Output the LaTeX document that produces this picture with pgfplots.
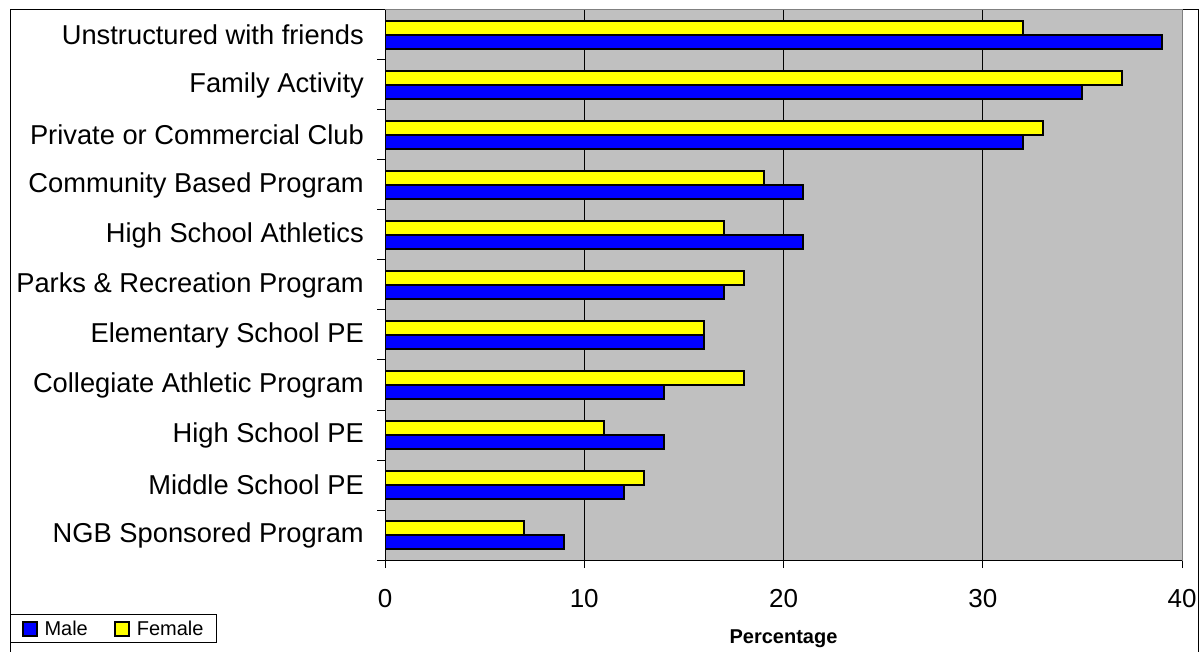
\documentclass[border=0pt]{standalone}
\usepackage{pgfplots}
\pgfplotsset{compat=1.18}
\usepackage{fontspec}
\setmainfont{Liberation Sans}
\definecolor{barblue}{RGB}{0,0,255}
\definecolor{baryellow}{RGB}{255,255,0}
\definecolor{plotgray}{RGB}{192,192,192}
\begin{document}
\begin{tikzpicture}[x=1pt,y=1pt]
\useasboundingbox (0,0) rectangle (1199,651);
\draw[line width=1pt] (10,-5) -- (10,641) -- (1198,641) -- (1198,-5);
\begin{axis}[
  at={(385pt,91pt)}, anchor=south west,
  scale only axis, width=797pt, height=550pt,
  xbar, bar width=14pt,
  xmin=0, xmax=40, ymin=-0.5, ymax=10.5,
  axis background/.style={fill=plotgray},
  axis line style={draw=gray, line width=1pt},
  xtick={0,10,20,30,40}, xtick pos=bottom, tick align=outside,
  major tick length=8pt,
  tick style={black, line width=1pt},
  xmajorgrids, major grid style={black, line width=0.8pt},
  ytick={-0.5,0.5,...,10.5}, ytick pos=left, yticklabels={},
  extra y ticks={0,1,2,3,4,5,6,7,8,9,10},
  extra y tick labels={NGB Sponsored Program, Middle School PE, High School PE, Collegiate Athletic Program, Elementary School PE, Parks \& Recreation Program, High School Athletics, Community Based Program, Private or Commercial Club, Family Activity, Unstructured with friends},
  extra y tick style={tick style={draw=none}, yticklabel style={anchor=east, inner sep=0pt, xshift=-13pt, font=\fontsize{27.3}{31}\selectfont}},
  xticklabel style={font=\fontsize{26}{30}\selectfont, anchor=base, yshift=-39pt, inner sep=0pt},
  /pgf/number format/assume math mode=true,
  xlabel={Percentage},
  xlabel style={at={(axis description cs:0.5,0)}, anchor=base, yshift=-83pt, font=\fontsize{20}{24}\selectfont\bfseries},
  legend style={at={(axis description cs:-0.4705,-0.0982)}, anchor=north west, draw=black, line width=1pt, fill=white, font=\fontsize{20}{24}\selectfont, inner xsep=11pt, inner ysep=4pt},
  legend columns=2,
  legend image code/.code={\draw[#1, line width=2pt] (0pt,-7pt) rectangle (14pt,7pt);},
  /tikz/every even column/.append style={column sep=24pt},
]
\addplot[fill=barblue, draw=black, line width=2pt, bar shift=-7pt] coordinates {(9,0) (12,1) (14,2) (14,3) (16,4) (17,5) (21,6) (21,7) (32,8) (35,9) (39,10)};
\addlegendentry{\hspace{5pt}Male}
\addplot[fill=baryellow, draw=black, line width=2pt, bar shift=7pt] coordinates {(7,0) (13,1) (11,2) (18,3) (16,4) (18,5) (17,6) (19,7) (33,8) (37,9) (32,10)};
\addlegendentry{\hspace{5pt}Female}
\draw[black, line width=1pt] (rel axis cs:0,1) -- (rel axis cs:0,0) -- (rel axis cs:1,0);
\end{axis}
\end{tikzpicture}
\end{document}
